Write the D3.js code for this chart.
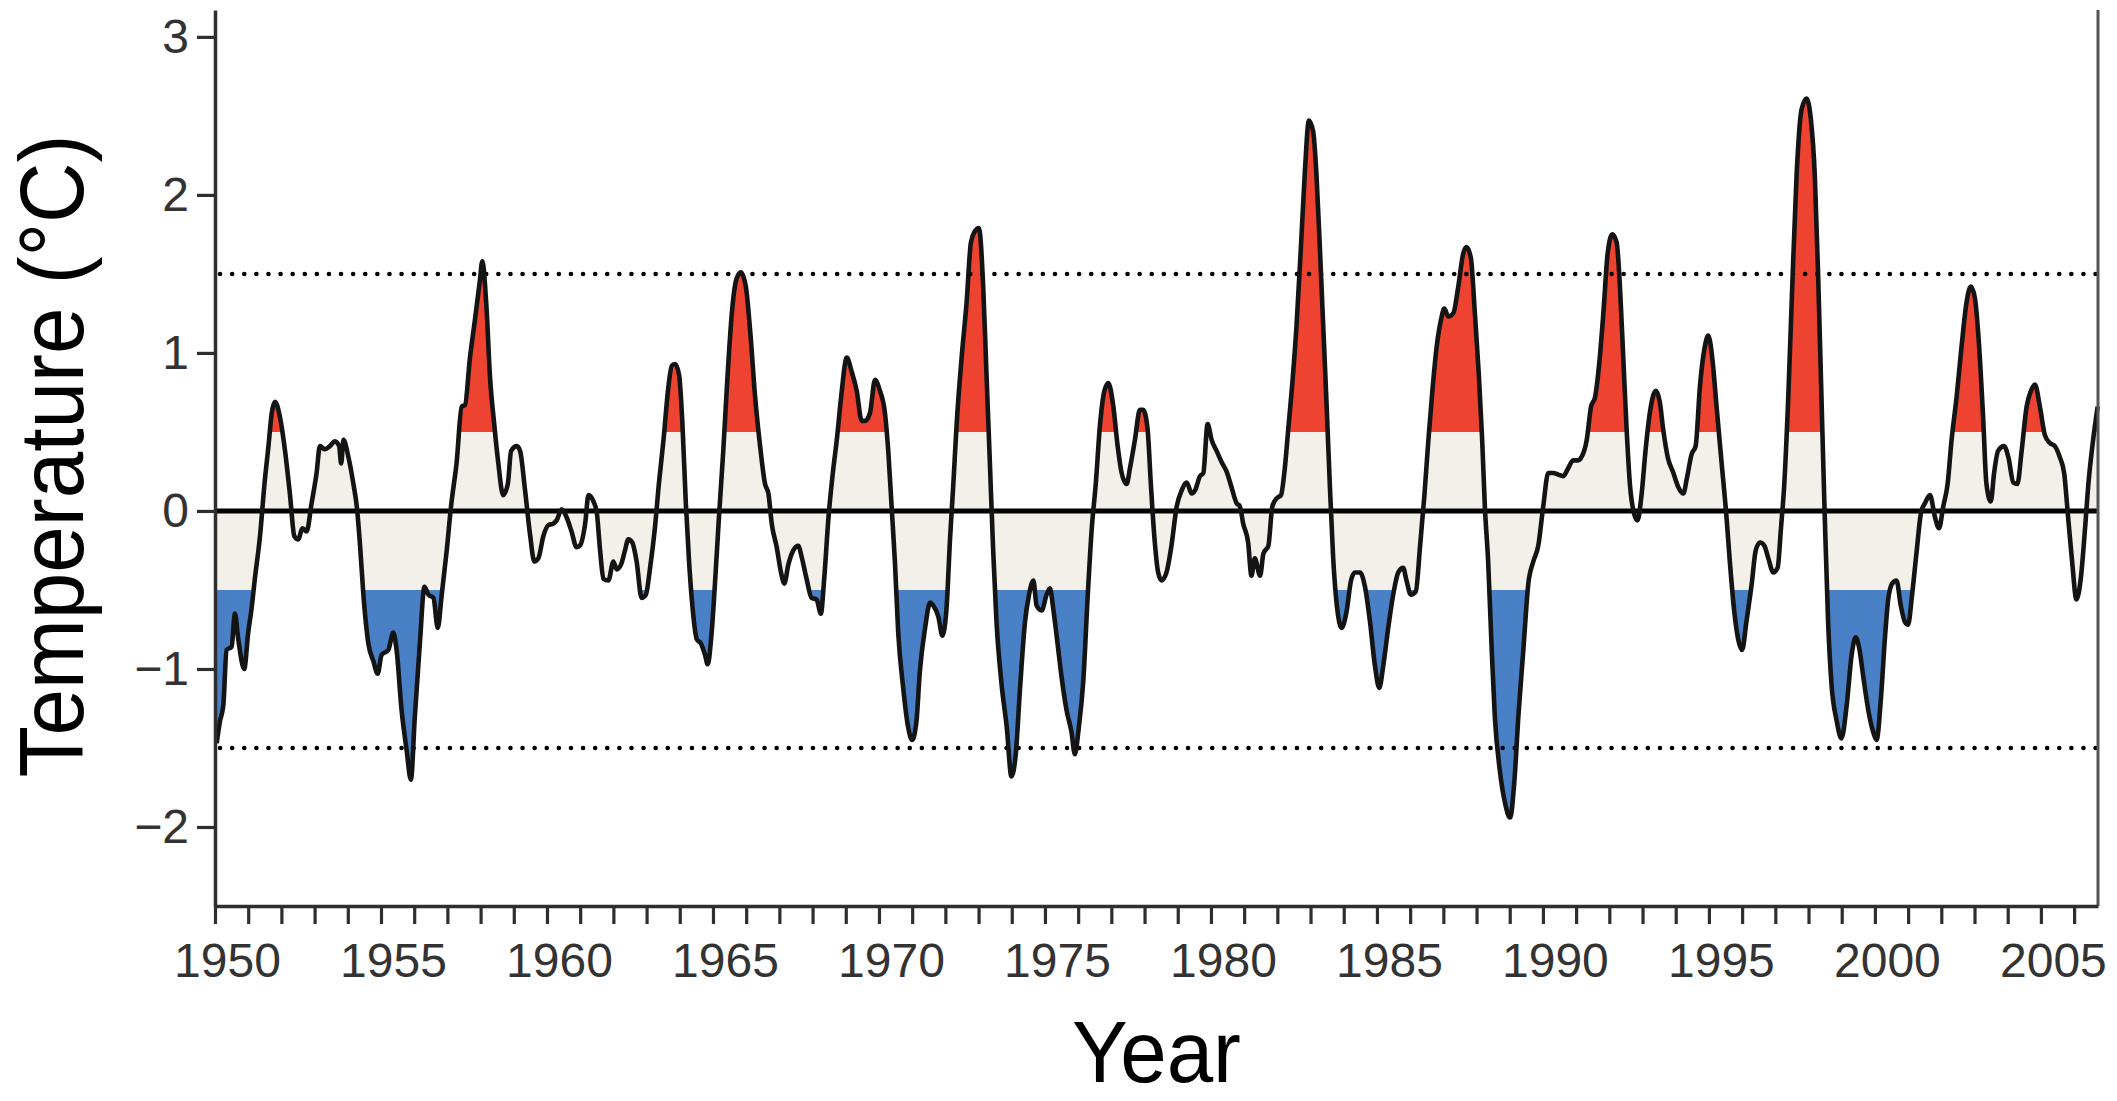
<!DOCTYPE html>
<html>
<head>
<meta charset="utf-8">
<script src="https://cdn.jsdelivr.net/npm/d3@7"></script>
<style>
  html, body { margin: 0; padding: 0; background: #fff; }
  svg { display: block; }
  text { font-family: "Liberation Sans", Arial, Helvetica, sans-serif; }
</style>
</head>
<body>
<div id="chart"></div>
<script>
// anomaly readings, [decimal year, degC], one array per decade
const dec1950 = [
    [1950.05, -1.47], [1950.15, -1.33], [1950.25, -1.23], [1950.35, -0.88], [1950.50, -0.86],
    [1950.60, -0.65], [1950.70, -0.81], [1950.88, -1.00], [1951.00, -0.77], [1951.10, -0.62],
    [1951.20, -0.43], [1951.36, -0.15], [1951.49, 0.17], [1951.61, 0.41], [1951.71, 0.62],
    [1951.81, 0.69], [1951.96, 0.59], [1952.11, 0.38], [1952.26, 0.10], [1952.39, -0.16],
    [1952.51, -0.18], [1952.63, -0.11], [1952.76, -0.13], [1952.91, 0.05], [1953.06, 0.24],
    [1953.16, 0.41], [1953.31, 0.39], [1953.46, 0.41], [1953.61, 0.44], [1953.74, 0.41],
    [1953.80, 0.30], [1953.87, 0.45], [1954.02, 0.34], [1954.17, 0.17], [1954.27, 0.03],
    [1954.37, -0.22], [1954.47, -0.53], [1954.62, -0.84], [1954.77, -0.95], [1954.90, -1.03],
    [1955.02, -0.91], [1955.22, -0.88], [1955.37, -0.77], [1955.47, -0.88], [1955.62, -1.26],
    [1955.77, -1.51], [1955.90, -1.70], [1956.02, -1.30], [1956.17, -0.84], [1956.31, -0.48],
    [1956.43, -0.53], [1956.58, -0.55], [1956.71, -0.74], [1956.83, -0.53], [1956.98, -0.25],
    [1957.11, 0.03], [1957.28, 0.31], [1957.43, 0.66], [1957.53, 0.67], [1957.68, 0.97],
    [1957.83, 1.21], [1957.98, 1.46], [1958.05, 1.58], [1958.18, 1.28], [1958.28, 0.86],
    [1958.41, 0.55], [1958.53, 0.31], [1958.68, 0.10], [1958.82, 0.17], [1958.92, 0.38],
    [1959.09, 0.41], [1959.19, 0.38], [1959.34, 0.13], [1959.49, -0.15], [1959.62, -0.32],
    [1959.74, -0.30], [1959.89, -0.16]
];
const dec1960 = [
    [1960.04, -0.09], [1960.19, -0.08], [1960.29, -0.06], [1960.44, 0.01], [1960.59, -0.04],
    [1960.74, -0.13], [1960.89, -0.23], [1960.99, -0.22], [1961.15, -0.08], [1961.25, 0.10],
    [1961.40, 0.06], [1961.50, -0.01], [1961.60, -0.25], [1961.70, -0.43], [1961.85, -0.44],
    [1962.00, -0.32], [1962.10, -0.37], [1962.23, -0.34], [1962.35, -0.25], [1962.45, -0.18],
    [1962.57, -0.20], [1962.70, -0.32], [1962.85, -0.55], [1962.98, -0.53], [1963.10, -0.37],
    [1963.25, -0.11], [1963.37, 0.17], [1963.51, 0.45], [1963.66, 0.79], [1963.76, 0.92],
    [1963.86, 0.93], [1963.98, 0.86], [1964.08, 0.55], [1964.18, 0.06], [1964.28, -0.32],
    [1964.38, -0.60], [1964.51, -0.81], [1964.64, -0.84], [1964.76, -0.91], [1964.84, -0.97],
    [1964.96, -0.77], [1965.06, -0.46], [1965.18, -0.04], [1965.31, 0.38], [1965.44, 0.86],
    [1965.58, 1.28], [1965.71, 1.47], [1965.84, 1.51], [1965.99, 1.42], [1966.12, 1.14],
    [1966.27, 0.72], [1966.42, 0.41], [1966.57, 0.17], [1966.67, 0.11], [1966.77, -0.08],
    [1966.92, -0.23], [1967.05, -0.39], [1967.15, -0.46], [1967.27, -0.34], [1967.42, -0.25],
    [1967.57, -0.22], [1967.67, -0.29], [1967.82, -0.43], [1967.97, -0.55], [1968.12, -0.56],
    [1968.25, -0.65], [1968.35, -0.43], [1968.48, -0.04], [1968.61, 0.24], [1968.73, 0.45],
    [1968.86, 0.72], [1969.03, 0.97], [1969.18, 0.88], [1969.33, 0.76], [1969.48, 0.57],
    [1969.58, 0.57], [1969.73, 0.62], [1969.88, 0.83]
];
const dec1970 = [
    [1970.03, 0.76], [1970.18, 0.62], [1970.28, 0.38], [1970.38, 0.03], [1970.48, -0.32],
    [1970.58, -0.77], [1970.73, -1.12], [1970.88, -1.37], [1971.00, -1.45], [1971.13, -1.33],
    [1971.23, -1.02], [1971.39, -0.74], [1971.54, -0.58], [1971.64, -0.60], [1971.79, -0.67],
    [1971.91, -0.79], [1972.04, -0.60], [1972.14, -0.18], [1972.24, 0.17], [1972.34, 0.55],
    [1972.49, 0.97], [1972.64, 1.32], [1972.77, 1.70], [1972.89, 1.77], [1973.01, 1.79],
    [1973.14, 1.42], [1973.24, 0.86], [1973.34, 0.31], [1973.44, -0.25], [1973.54, -0.70],
    [1973.69, -1.09], [1973.85, -1.37], [1973.99, -1.68], [1974.12, -1.54], [1974.25, -1.12],
    [1974.40, -0.70], [1974.52, -0.53], [1974.65, -0.44], [1974.75, -0.60], [1974.90, -0.63],
    [1975.05, -0.53], [1975.15, -0.49], [1975.25, -0.62], [1975.38, -0.84], [1975.50, -1.05],
    [1975.65, -1.26], [1975.80, -1.40], [1975.90, -1.54], [1976.02, -1.37], [1976.15, -1.09],
    [1976.29, -0.53], [1976.41, -0.11], [1976.53, 0.17], [1976.66, 0.55], [1976.79, 0.76],
    [1976.91, 0.81], [1977.06, 0.66], [1977.19, 0.41], [1977.31, 0.24], [1977.46, 0.17],
    [1977.56, 0.27], [1977.71, 0.45], [1977.86, 0.64], [1977.96, 0.64], [1978.09, 0.52],
    [1978.19, 0.17], [1978.29, -0.15], [1978.41, -0.39], [1978.51, -0.44], [1978.66, -0.39],
    [1978.81, -0.22], [1978.97, 0.03], [1979.12, 0.13], [1979.27, 0.18], [1979.42, 0.11],
    [1979.52, 0.13], [1979.67, 0.22], [1979.77, 0.24], [1979.90, 0.55]
];
const dec1980 = [
    [1980.02, 0.45], [1980.17, 0.38], [1980.32, 0.31], [1980.47, 0.25], [1980.62, 0.15],
    [1980.77, 0.05], [1980.87, 0.03], [1980.97, -0.08], [1981.12, -0.20], [1981.22, -0.41],
    [1981.32, -0.30], [1981.48, -0.41], [1981.58, -0.27], [1981.73, -0.22], [1981.85, 0.03],
    [1981.98, 0.08], [1982.11, 0.10], [1982.21, 0.24], [1982.33, 0.52], [1982.46, 0.83],
    [1982.58, 1.18], [1982.71, 1.67], [1982.83, 2.15], [1982.95, 2.47], [1983.08, 2.40],
    [1983.18, 2.12], [1983.28, 1.67], [1983.38, 1.18], [1983.48, 0.69], [1983.58, 0.17],
    [1983.68, -0.29], [1983.81, -0.63], [1983.94, -0.74], [1984.09, -0.63], [1984.22, -0.44],
    [1984.34, -0.39], [1984.49, -0.39], [1984.64, -0.48], [1984.79, -0.70], [1984.94, -0.98],
    [1985.07, -1.12], [1985.19, -0.98], [1985.34, -0.74], [1985.49, -0.53], [1985.64, -0.39],
    [1985.79, -0.36], [1985.89, -0.44], [1986.02, -0.53], [1986.17, -0.51], [1986.30, -0.22],
    [1986.43, 0.10], [1986.55, 0.45], [1986.67, 0.76], [1986.80, 1.04], [1986.93, 1.21],
    [1987.03, 1.28], [1987.15, 1.23], [1987.30, 1.25], [1987.45, 1.42], [1987.60, 1.63],
    [1987.70, 1.67], [1987.83, 1.60], [1987.95, 1.25], [1988.07, 0.86], [1988.17, 0.45],
    [1988.25, 0.03], [1988.35, -0.32], [1988.45, -0.84], [1988.55, -1.30], [1988.70, -1.64],
    [1988.86, -1.85], [1989.01, -1.94], [1989.14, -1.71], [1989.26, -1.30], [1989.41, -0.88],
    [1989.56, -0.46], [1989.71, -0.32], [1989.86, -0.22]
];
const dec1990 = [
    [1990.01, 0.03], [1990.16, 0.24], [1990.31, 0.24], [1990.46, 0.23], [1990.61, 0.22],
    [1990.76, 0.27], [1990.91, 0.32], [1991.06, 0.32], [1991.16, 0.34], [1991.32, 0.45],
    [1991.45, 0.66], [1991.57, 0.72], [1991.69, 0.92], [1991.82, 1.25], [1991.95, 1.63],
    [1992.09, 1.75], [1992.22, 1.70], [1992.32, 1.42], [1992.42, 0.97], [1992.52, 0.52],
    [1992.62, 0.17], [1992.75, -0.02], [1992.85, -0.06], [1992.97, 0.10], [1993.09, 0.38],
    [1993.22, 0.62], [1993.40, 0.76], [1993.52, 0.69], [1993.62, 0.52], [1993.76, 0.34],
    [1993.93, 0.24], [1994.08, 0.15], [1994.23, 0.11], [1994.33, 0.20], [1994.48, 0.36],
    [1994.60, 0.41], [1994.73, 0.79], [1994.86, 1.02], [1994.98, 1.11], [1995.10, 0.97],
    [1995.23, 0.66], [1995.38, 0.31], [1995.53, -0.04], [1995.63, -0.32], [1995.76, -0.63],
    [1995.88, -0.81], [1996.00, -0.88], [1996.13, -0.70], [1996.29, -0.46], [1996.41, -0.25],
    [1996.54, -0.20], [1996.67, -0.22], [1996.79, -0.30], [1996.94, -0.39], [1997.07, -0.36],
    [1997.17, -0.11], [1997.27, 0.17], [1997.39, 0.72], [1997.51, 1.42], [1997.64, 2.12],
    [1997.79, 2.54], [1997.94, 2.61], [1998.07, 2.48], [1998.19, 2.12], [1998.29, 1.49],
    [1998.39, 0.72], [1998.49, -0.04], [1998.59, -0.70], [1998.69, -1.09], [1998.85, -1.33],
    [1998.99, -1.44], [1999.15, -1.23], [1999.30, -0.91], [1999.42, -0.80], [1999.52, -0.86],
    [1999.65, -1.05], [1999.80, -1.26], [1999.95, -1.40]
];
const dec2000 = [
    [2000.05, -1.45], [2000.18, -1.19], [2000.30, -0.81], [2000.40, -0.56], [2000.52, -0.46],
    [2000.65, -0.44], [2000.78, -0.60], [2000.90, -0.70], [2001.00, -0.72], [2001.12, -0.53],
    [2001.26, -0.25], [2001.39, -0.01], [2001.51, 0.05], [2001.66, 0.10], [2001.81, -0.04],
    [2001.93, -0.11], [2002.06, 0.03], [2002.19, 0.17], [2002.31, 0.45], [2002.46, 0.72],
    [2002.61, 1.04], [2002.76, 1.32], [2002.89, 1.42], [2003.01, 1.35], [2003.13, 1.07],
    [2003.26, 0.59], [2003.36, 0.17], [2003.49, 0.06], [2003.59, 0.24], [2003.71, 0.38],
    [2003.89, 0.41], [2004.02, 0.34], [2004.17, 0.18], [2004.29, 0.17], [2004.42, 0.38],
    [2004.57, 0.66], [2004.70, 0.76], [2004.82, 0.80], [2004.97, 0.66], [2005.12, 0.48],
    [2005.27, 0.43], [2005.42, 0.41], [2005.57, 0.34], [2005.70, 0.24], [2005.82, -0.04],
    [2005.94, -0.32], [2006.07, -0.56], [2006.20, -0.43], [2006.33, -0.11], [2006.43, 0.17],
    [2006.55, 0.41], [2006.71, 0.66]
];

const Y_TICKS = [-2, -1, 0, 1, 2, 3];
const X_LABEL_YEARS = [1950, 1955, 1960, 1965, 1970, 1975, 1980, 1985, 1990, 1995, 2000, 2005];
const WEAK_LIMIT = 0.5;     // colour band edge
const STRONG_LIMIT = 1.5;   // dotted reference lines

const series = [].concat(dec1950, dec1960, dec1970, dec1980, dec1990, dec2000)
    .map(d => ({ year: d[0], temp: d[1] }));

const WIDTH = 2117, HEIGHT = 1101;
const PLOT = { left: 215, right: 2098, top: 10, bottom: 906 };

const COLORS = { warm: "#ee4330", neutral: "#f2f0e9", cool: "#4a80c5", axis: "#2e2e2e" };

const svg = d3.select("#chart").append("svg")
    .attr("width", WIDTH)
    .attr("height", HEIGHT);

const x = d3.scaleLinear()
    .domain([1950, 2006.72])
    .range([PLOT.left, PLOT.right]);

const y = d3.scaleLinear()
    .domain([-2.5, 3.17])
    .range([PLOT.bottom, PLOT.top]);

// clip bands: above +0.5, between, below -0.5
const defs = svg.append("defs");
const bands = [
    { id: "band-warm", y0: PLOT.top, y1: y(WEAK_LIMIT), fill: COLORS.warm },
    { id: "band-neutral", y0: y(WEAK_LIMIT), y1: y(-WEAK_LIMIT), fill: COLORS.neutral },
    { id: "band-cool", y0: y(-WEAK_LIMIT), y1: PLOT.bottom, fill: COLORS.cool }
];
bands.forEach(b => {
    defs.append("clipPath").attr("id", b.id)
        .append("rect")
        .attr("x", PLOT.left)
        .attr("y", b.y0)
        .attr("width", PLOT.right - PLOT.left)
        .attr("height", b.y1 - b.y0);
});

const area = d3.area()
    .x(d => x(d.year))
    .y0(y(0))
    .y1(d => y(d.temp))
    .curve(d3.curveMonotoneX);

const line = d3.line()
    .x(d => x(d.year))
    .y(d => y(d.temp))
    .curve(d3.curveMonotoneX);

bands.forEach(b => {
    svg.append("path")
        .datum(series)
        .attr("clip-path", "url(#" + b.id + ")")
        .attr("fill", b.fill)
        .attr("d", area);
});

// zero line
svg.append("line")
    .attr("x1", PLOT.left).attr("x2", PLOT.right)
    .attr("y1", y(0)).attr("y2", y(0))
    .attr("stroke", "#000")
    .attr("stroke-width", 5);

// dotted +-1.5 lines
svg.selectAll(".strong")
    .data([STRONG_LIMIT, -STRONG_LIMIT])
    .enter()
    .append("line")
    .attr("class", "strong")
    .attr("x1", PLOT.left + 5).attr("x2", PLOT.right)
    .attr("y1", d => y(d)).attr("y2", d => y(d))
    .attr("stroke", "#000")
    .attr("stroke-width", 4.5)
    .attr("stroke-linecap", "round")
    .attr("stroke-dasharray", "0.1 12");

svg.append("path")
    .datum(series)
    .attr("fill", "none")
    .attr("stroke", "#141414")
    .attr("stroke-width", 4.6)
    .attr("stroke-linejoin", "round")
    .attr("d", line);

// right border
svg.append("line")
    .attr("x1", PLOT.right).attr("x2", PLOT.right)
    .attr("y1", PLOT.top).attr("y2", PLOT.bottom)
    .attr("stroke", "#555")
    .attr("stroke-width", 3);

// axes
const xAxis = d3.axisBottom(x)
    .tickValues(d3.range(1950, 2007))
    .tickSize(18)
    .tickSizeOuter(0)
    .tickPadding(20)
    .tickFormat(d => X_LABEL_YEARS.includes(d) ? String(d) : "");

const gx = svg.append("g")
    .attr("transform", "translate(0," + PLOT.bottom + ")")
    .call(xAxis);

gx.select(".domain").attr("stroke", COLORS.axis).attr("stroke-width", 3.5);
gx.selectAll(".tick line").attr("stroke", COLORS.axis).attr("stroke-width", 3.2);
gx.selectAll(".tick text")
    .attr("fill", "#333")
    .attr("font-size", 48)
    .attr("dx", 12)
    .attr("y", 37)
    .attr("dy", "0.71em");

const yAxis = d3.axisLeft(y)
    .tickValues(Y_TICKS)
    .tickSize(18)
    .tickSizeOuter(0)
    .tickPadding(8)
    .tickFormat(d => d < 0 ? "\u2212" + Math.abs(d) : String(d));

const gy = svg.append("g")
    .attr("transform", "translate(" + PLOT.left + ",0)")
    .call(yAxis);

gy.select(".domain").attr("stroke", COLORS.axis).attr("stroke-width", 3.5);
gy.selectAll(".tick line").attr("stroke", COLORS.axis).attr("stroke-width", 3.2);
gy.selectAll(".tick text")
    .attr("fill", "#333")
    .attr("font-size", 48);

// titles
svg.append("text")
    .attr("transform", "translate(" + ((PLOT.left + PLOT.right) / 2) + ",1082) scale(0.95,1)")
    .attr("text-anchor", "middle")
    .attr("font-size", 88)
    .attr("fill", "#000")
    .text("Year");

svg.append("text")
    .attr("transform", "translate(83,456) rotate(-90) scale(0.93,1)")
    .attr("text-anchor", "middle")
    .attr("font-size", 90)
    .attr("fill", "#000")
    .text("Temperature (\u00b0C)");
</script>
</body>
</html>
